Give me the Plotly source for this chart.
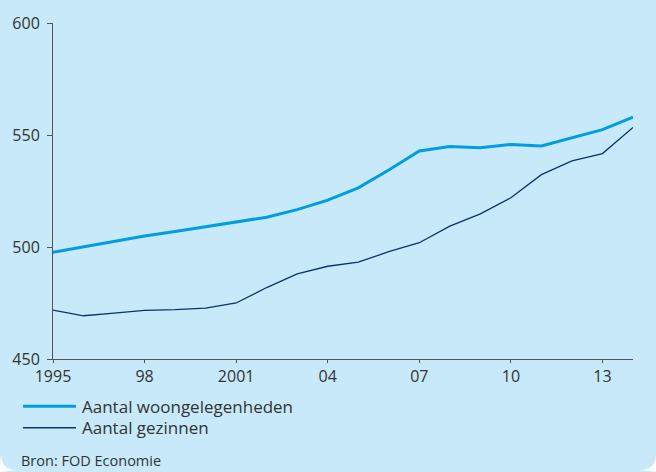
import plotly.graph_objects as go

years = list(range(1995, 2015))
woongelegenheden = [497.6, 500.0, 502.5, 504.9, 506.9, 509.0, 511.1, 513.3, 516.7, 520.9,
                    526.4, 534.4, 542.9, 544.9, 544.3, 545.8, 545.1, 548.7, 552.4, 558.0]
gezinnen = [471.8, 469.3, 470.5, 471.7, 472.0, 472.7, 475.0, 481.9, 488.0, 491.4,
            493.2, 497.9, 501.9, 509.3, 514.8, 522.0, 532.3, 538.4, 541.7, 553.4]
series_names = ["Aantal woongelegenheden", "Aantal gezinnen"]
x_tickvals = [1995, 1998, 2001, 2004, 2007, 2010, 2013]
x_ticktext = ["1995", "98", "2001", "04", "07", "10", "13"]
y_tickvals = [450, 500, 550, 600]
unit_label = "(x 1000)"
source_label = "Bron: FOD Economie"

W, H = 656, 472
ML, MR, MT, MB = 52, 23, 17, 113
PW, PH = W - ML - MR, H - MT - MB
BG = "#C7E9F9"
LIGHT = "#009EE0"
DARK = "#0B3563"
TXT = "#333333"
FONT = "Open Sans"


def px(x):
    return (x - ML) / PW


def py(y):
    return (H - MB - y) / PH


fig = go.Figure()
fig.add_trace(go.Scatter(x=years, y=woongelegenheden, mode="lines", name=series_names[0],
                         line=dict(color=LIGHT, width=3), showlegend=False))
fig.add_trace(go.Scatter(x=years, y=gezinnen, mode="lines", name=series_names[1],
                         line=dict(color=DARK, width=1.3), showlegend=False))

shapes = []
annotations = []
# manual legend
for i, (name, col, w) in enumerate(zip(series_names, [LIGHT, DARK], [3, 1.3])):
    yy = 407 + i * 22
    shapes.append(dict(type="line", xref="paper", yref="paper",
                       x0=px(22), x1=px(75), y0=py(yy), y1=py(yy),
                       line=dict(color=col, width=w)))
    annotations.append(dict(text=name, xref="paper", yref="paper", x=px(79), y=py(yy),
                            xanchor="left", yanchor="middle", showarrow=False,
                            font=dict(family=FONT, size=17, color=TXT)))

annotations.append(dict(text=source_label, xref="paper", yref="paper", x=px(18), y=py(462),
                        xanchor="left", yanchor="middle", showarrow=False,
                        font=dict(family=FONT, size=14.5, color=TXT)))
annotations.append(dict(text=unit_label, xref="paper", yref="paper", x=px(331), y=py(-3),
                        xanchor="center", yanchor="bottom", showarrow=False,
                        font=dict(family=FONT, size=15, color="#4a6fa5")))

# rounded bottom corners (white)
R = 16
shapes.append(dict(type="path", xref="paper", yref="paper", layer="above",
                   path=f"M {px(0)},{py(H - R)} Q {px(0)},{py(H)} {px(R)},{py(H)} L {px(-2)},{py(H + 2)} Z",
                   fillcolor="white", line=dict(width=0)))
shapes.append(dict(type="path", xref="paper", yref="paper", layer="above",
                   path=f"M {px(W)},{py(H - R)} Q {px(W)},{py(H)} {px(W - R)},{py(H)} L {px(W + 2)},{py(H + 2)} Z",
                   fillcolor="white", line=dict(width=0)))

fig.update_layout(
    width=W, height=H,
    margin=dict(l=ML, r=MR, t=MT, b=MB, pad=0),
    paper_bgcolor=BG, plot_bgcolor=BG,
    font=dict(family=FONT, size=16, color=TXT),
    shapes=shapes, annotations=annotations,
    showlegend=False,
    xaxis=dict(range=[1995, 2014], tickvals=x_tickvals, ticktext=x_ticktext,
               showgrid=False, zeroline=False, showline=True, linecolor="#555555", linewidth=1,
               ticks="outside", ticklen=3, tickcolor="#555555",
               tickfont=dict(family=FONT, size=16, color=TXT)),
    yaxis=dict(range=[450, 600], tickvals=y_tickvals,
               showgrid=False, zeroline=False, showline=True, linecolor="#555555", linewidth=1,
               ticks="outside", ticklen=5, tickcolor="#555555", ticklabelstandoff=4,
               tickfont=dict(family=FONT, size=16, color=TXT)),
)

fig.write_html("out.html",
               config={"displayModeBar": False},
               post_script="document.documentElement.style.margin='0';"
                           "document.body.style.margin='0';"
                           "document.body.style.overflow='hidden';")
